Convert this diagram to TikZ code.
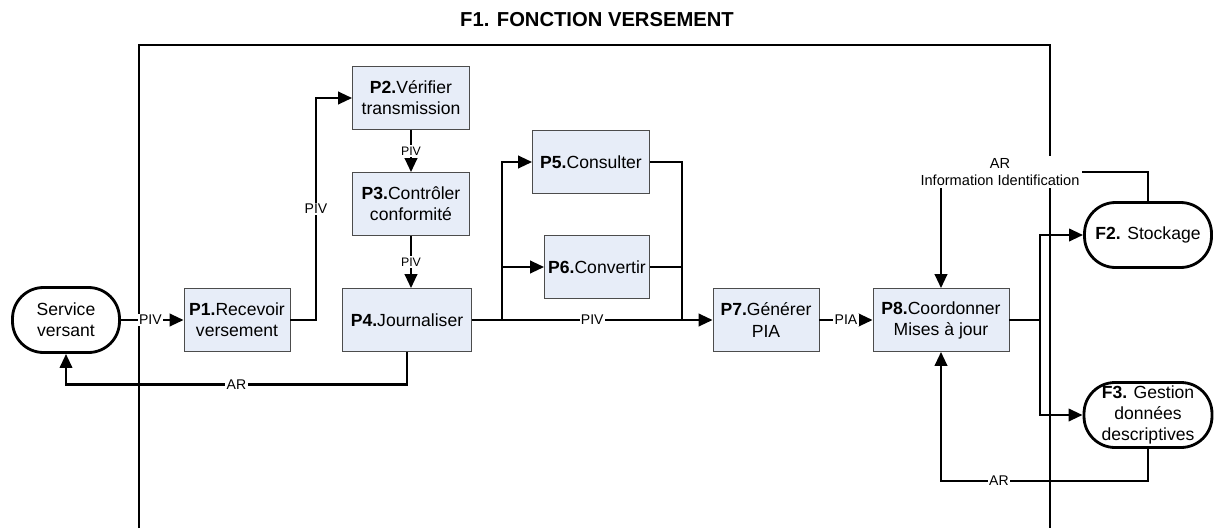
\documentclass[tikz,border=0pt]{standalone}
\usepackage{fontspec}
\setmainfont{Liberation Sans}
\usetikzlibrary{arrows.meta}
\definecolor{boxfill}{HTML}{E7EDF8}
\tikzset{
  proc/.style={draw=gray!60!black, fill=boxfill, minimum height=1.26cm, align=center,
    inner sep=1pt, font=\fontsize{10}{12}\selectfont},
  ext/.style={draw, line width=1.6pt, rounded corners=0.62cm, minimum height=1.3cm,
    align=center, inner sep=1pt, font=\fontsize{10}{12}\selectfont},
  lbl/.style={fill=white, inner sep=0.8pt, font=\fontsize{8}{9}\selectfont},
  flow/.style={line width=1.6pt, >={Triangle[length=8pt,width=7pt]}}
}

\begin{document}
\begin{tikzpicture}[x=0.02cm, y=-0.02cm]
  \useasboundingbox (0,0) rectangle (1215,528);
  \node (title) at (597,20) {\fontsize{11.5}{13}\selectfont\bfseries F1. FONCTION VERSEMENT};
  \draw[line width=1.5pt] (139,528) -- (139,45) -- (1050,45) -- (1050,528);

  \node[ext, minimum width=2.14cm] (SV) at (66,320) {Service\\versant};
  \node[proc, minimum width=2.12cm] (P1) at (237,320) {\textbf{P1.}Recevoir\\versement};
  \node[proc, minimum width=2.34cm] (P2) at (411,98) {\textbf{P2.}Vérifier\\transmission};
  \node[proc, minimum width=2.34cm] (P3) at (411,204) {\textbf{P3.}Contrôler\\conformité};
  \node[proc, minimum width=2.58cm] (P4) at (407,320) {\textbf{P4.}Journaliser};
  \node[proc, minimum width=2.34cm] (P5) at (591,162) {\textbf{P5.}Consulter};
  \node[proc, minimum width=2.1cm] (P6) at (597,267) {\textbf{P6.}Convertir};
  \node[proc, minimum width=2.12cm] (P7) at (766,320) {\textbf{P7.}Générer\\PIA};
  \node[proc, minimum width=2.72cm] (P8) at (941,320) {\textbf{P8.}Coordonner\\Mises à jour};
  \node[ext, minimum width=2.54cm] (F2) at (1148,235) {\textbf{F2.} Stockage};
  \node[ext, minimum width=2.56cm] (F3) at (1148,415) {\textbf{F3.} Gestion\\données\\descriptives};
  \node[fill=white, inner sep=1pt, align=center, font=\fontsize{8.3}{10}\selectfont] (info) at (1000,172)
    {AR\\Information Identification};

  \coordinate (up1) at (316,320);
  \coordinate (split) at (502,320);
  \coordinate (join) at (682,320);
  \coordinate (fork) at (1040,320);

  \draw[flow, ->] (SV.east) -- node[lbl, pos=0.47] {PIV} (P1.west);
  \draw[flow, ->] (P1.east) -- (up1) |- node[lbl, pos=0.25] {PIV} (P2.west);
  \draw[flow, ->] (P2.south) -- node[lbl, font=\fontsize{7}{8}\selectfont] {PIV} (P3.north);
  \draw[flow, ->] (P3.south) -- node[lbl, font=\fontsize{7}{8}\selectfont] {PIV} (P3.south |- P4.north);
  \draw[flow, ->] (P4.south) -- ++(0,33) -| node[lbl, pos=0.25] {AR} (SV.south);
  \draw[flow, ->] (P4.east) -- node[lbl] {PIV} (P7.west);
  \draw[flow, ->] (split) |- (P5.west);
  \draw[flow, ->] (split |- P6.west) -- (P6.west);
  \draw[flow] (P5.east) -| (join);
  \draw[flow] (P6.east) -- (P6.east -| join);
  \draw[flow, ->] (P7.east) -- node[lbl] {PIA} (P8.west);
  \draw[flow] (P8.east) -- (fork);
  \draw[flow, ->] (fork) |- (F2.west);
  \draw[flow, ->] (fork) |- (F3.west);
  \draw[flow] (F2.north) |- (info.east);
  \draw[flow, ->] (info.south -| P8.north) -- (P8.north);
  \draw[flow, ->] (F3.south) -- ++(0,32) -| node[lbl, pos=0.36] {AR} (P8.south);
\end{tikzpicture}
\end{document}
